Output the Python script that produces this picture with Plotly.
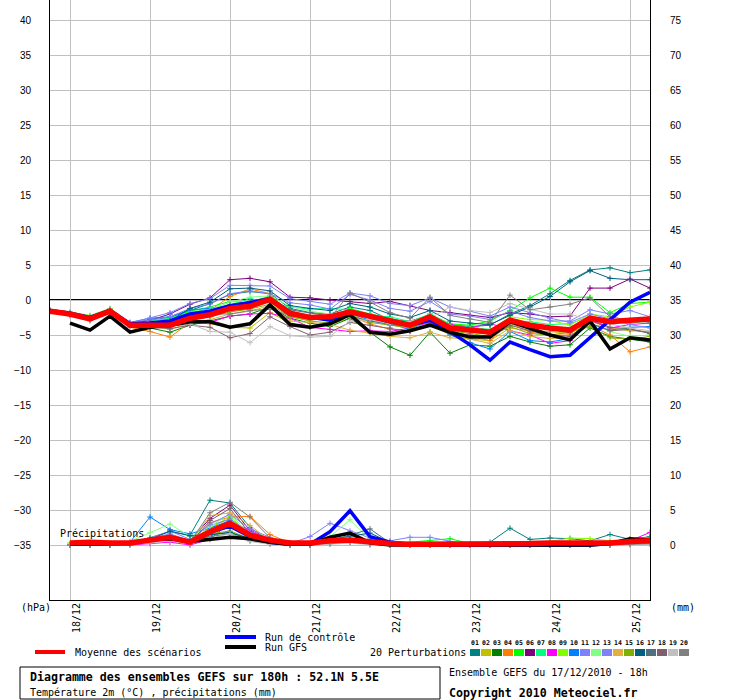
import plotly.graph_objects as go

# ---------------- data ----------------
hours = list(range(0, 181, 6))            # 0h = 17/12 18h ... 180h
precip_hours = hours[1:]
day_hours = [6, 30, 54, 78, 102, 126, 150, 174]
day_labels = ["18/12", "19/12", "20/12", "21/12", "22/12", "23/12", "24/12", "25/12"]
left_ticks = list(range(-35, 41, 5))
right_ticks = list(range(0, 76, 5))

mean_t = [-1.6, -2.0, -2.7, -1.6, -3.6, -3.6, -3.6, -2.6, -2.1, -1.2, -0.9, 0.1, -1.9, -2.5, -2.4, -1.7,
          -2.4, -3.1, -3.6, -2.4, -4.0, -4.3, -4.6, -2.9, -3.6, -4.0, -4.3, -2.6, -3.1, -2.9, -2.7]
ctrl_t = [-1.5, -1.9, -2.5, -1.5, -3.4, -3.3, -3.0, -2.0, -1.6, -0.8, -0.4, 0.2, -2.0, -2.5, -2.9, -1.7,
          -2.4, -3.1, -3.6, -2.9, -4.5, -6.4, -8.6, -6.0, -7.1, -8.1, -7.9, -5.4, -2.9, -0.3, 1.1]
gfs_t = [-3.3, -4.3, -2.3, -4.6, -3.9, -3.6, -3.1, -3.1, -3.9, -3.4, -0.7, -3.5, -3.9, -3.4, -2.1,
         -4.6, -4.9, -4.4, -3.6, -4.6, -5.3, -5.3, -3.1, -4.0, -5.0, -5.7, -3.0, -7.0, -5.4, -5.7]

pert_t = [
    [-1.6, -2.1, -2.8, -1.5, -3.4, -2.8, -2.5, -1.5, -0.5, 0.8, 1.2, 0.9, -1.2, -1.8, -2.0, -1.0, -1.5, -2.8, -3.0, -2.2, -3.5, -3.8, -3.6, -2.0, -0.8, 0.9, 2.8, 4.3, 4.6, 3.9, 4.3],
    [-1.6, -2.0, -2.7, -1.6, -3.6, -3.7, -3.8, -3.2, -3.4, -3.9, -4.0, -1.8, -3.3, -3.8, -3.5, -2.6, -4.7, -4.9, -4.4, -3.5, -5.0, -5.6, -5.8, -4.0, -4.4, -4.5, -4.8, -3.0, -4.0, -4.4, -4.5],
    [-1.6, -2.1, -2.8, -1.7, -3.6, -4.0, -4.6, -3.6, -3.0, -2.3, -2.0, -1.0, -2.6, -3.3, -3.8, -2.6, -4.6, -6.7, -7.9, -4.6, -7.6, -6.4, -6.6, -5.2, -6.0, -6.6, -6.4, -4.0, -5.2, -5.6, -6.0],
    [-1.6, -2.1, -2.9, -1.7, -3.9, -4.5, -5.3, -3.2, -1.5, 0.5, 1.6, 0.9, -2.2, -2.4, -2.8, -2.3, -3.4, -4.2, -4.4, -3.3, -4.3, -5.2, -5.8, -3.3, -4.6, -5.0, -5.0, -3.6, -5.0, -7.4, -6.7],
    [-1.6, -1.9, -2.3, -1.3, -3.5, -3.0, -2.7, -1.6, -1.0, -0.2, -0.4, 0.6, -1.6, -2.3, -2.6, -1.2, -2.0, -2.6, -3.4, -2.0, -3.4, -3.6, -3.0, -1.5, 0.3, 1.7, 0.4, 0.4, -1.8, -0.5, -0.3],
    [-1.6, -1.9, -2.4, -1.4, -3.4, -2.9, -2.0, -0.6, 0.3, 2.9, 3.1, 2.6, 0.4, 0.3, 0.0, -0.2, -0.5, -0.2, -0.8, -1.5, -1.8, -2.2, -2.5, -1.8, -2.0, -2.4, -2.3, 1.7, 1.7, 3.0, 1.7],
    [-1.6, -2.0, -2.6, -1.5, -3.5, -3.1, -2.6, -1.8, -1.2, -0.7, 0.2, -0.4, -1.0, -1.3, -1.2, -1.4, -2.2, -2.4, -3.1, -2.0, -3.5, -3.9, -4.2, -3.4, -3.1, -3.5, -3.4, -2.3, -3.2, -3.3, -3.0],
    [-1.6, -2.1, -2.7, -1.6, -3.7, -3.8, -3.7, -3.4, -3.2, -2.3, -2.0, -1.9, -2.6, -3.9, -4.2, -4.5, -4.4, -4.5, -4.0, -3.2, -3.5, -4.0, -3.3, -4.4, -5.0, -6.2, -5.8, -2.9, -4.0, -3.5, -3.3],
    [-1.4, -1.7, -2.2, -1.2, -3.4, -3.3, -3.4, -2.3, -1.9, -1.4, -0.8, -0.2, -2.4, -2.8, -2.3, -1.5, -2.5, -3.0, -3.3, -2.6, -3.8, -4.0, -4.4, -2.4, -2.8, -2.9, -3.6, -2.0, -2.4, -1.0, -0.3],
    [-1.5, -1.8, -2.4, -1.4, -3.2, -2.6, -2.4, -1.4, -1.2, -0.9, -0.5, -0.3, -1.8, -2.6, -2.5, -1.9, -2.9, -3.4, -4.2, -2.8, -5.0, -6.1, -7.0, -4.5, -5.8, -6.0, -5.5, -3.5, -4.3, -3.9, -3.8],
    [-1.5, -1.8, -2.3, -1.3, -3.3, -2.6, -1.8, -0.5, 0.2, 2.1, 2.1, 2.0, 0.2, -0.2, -0.6, 1.0, 0.6, -0.5, -0.8, 0.3, -1.0, -1.6, -2.3, -1.0, -1.8, -2.6, -3.2, -2.0, -2.7, -3.5, -4.0],
    [-1.6, -1.9, -2.3, -1.4, -3.4, -3.2, -3.1, -2.0, -1.4, -0.3, 0.4, 0.6, -0.9, -1.6, -2.0, -1.6, -2.2, -2.8, -3.2, -2.2, -3.8, -4.6, -4.8, -2.6, -3.5, -3.8, -4.1, -3.3, -4.5, -5.2, -5.0],
    [-1.6, -2.0, -2.6, -1.5, -3.3, -2.9, -2.4, -1.2, -0.6, 0.9, 1.3, 0.9, -0.4, -0.7, -1.3, 0.8, 0.0, -1.2, -1.6, -0.2, -2.0, -2.3, -2.8, -1.6, -2.5, -3.0, -3.0, -1.4, -2.0, -1.5, -2.4],
    [-1.6, -2.0, -2.6, -1.6, -3.4, -3.8, -4.2, -3.3, -2.8, -2.0, -1.6, -0.8, -3.0, -3.2, -3.5, -4.3, -4.8, -5.2, -5.4, -4.6, -5.4, -5.6, -6.2, -4.4, -5.2, -5.5, -5.4, -3.5, -3.9, -4.3, -4.6],
    [-1.6, -2.0, -2.6, -1.5, -3.6, -3.6, -3.9, -2.8, -2.4, -1.7, -1.3, -0.6, -2.4, -3.0, -3.3, -2.0, -3.2, -3.6, -4.0, -3.0, -4.4, -4.8, -5.2, -3.8, -4.8, -5.0, -4.6, -3.8, -5.4, -5.6, -5.2],
    [-1.6, -2.0, -2.6, -1.6, -3.5, -3.2, -3.0, -1.2, -0.3, 1.6, 1.7, 1.3, -0.8, -1.2, -1.5, -0.5, -1.0, -2.0, -2.5, -1.5, -3.0, -3.3, -3.5, -2.2, -1.0, 0.5, 2.6, 4.2, 3.1, 2.9, 2.9],
    [-1.6, -2.1, -2.7, -1.6, -3.5, -3.4, -3.3, -2.4, -1.7, -0.7, -0.2, 0.4, -1.4, -1.8, -2.3, -2.3, -3.0, -3.5, -3.8, -2.7, -4.0, -4.4, -4.9, -3.0, -3.8, -4.2, -4.6, -2.8, -3.9, -4.1, -4.8],
    [-1.6, -2.1, -2.9, -1.7, -3.6, -3.9, -4.1, -3.6, -3.9, -5.4, -4.8, -2.4, -3.8, -5.0, -4.6, -3.2, -3.6, -4.0, -4.5, -3.3, -4.6, -5.0, -5.4, -3.6, -4.4, -5.0, -5.2, -3.3, -4.4, -4.2, -4.7],
    [-1.7, -2.3, -3.0, -1.8, -3.7, -3.8, -3.6, -3.4, -4.5, -4.6, -6.1, -3.8, -5.1, -5.3, -5.2, -3.0, -2.8, -3.4, -3.0, -2.6, -1.0, -1.5, -1.8, -0.5, -1.3, -2.0, -2.0, -2.9, -3.4, -4.0, -4.4],
    [-1.6, -2.0, -2.7, -1.6, -3.5, -3.3, -3.3, -2.3, -2.0, -2.0, -1.5, -1.3, -2.2, -2.5, -2.6, 1.0, -0.3, -1.8, -2.6, 0.4, -2.2, -2.7, -3.2, 0.7, -1.4, -1.0, -0.6, 0.3, -2.4, -2.9, -3.2],
]

mean_p = [0.3, 0.4, 0.3, 0.3, 0.7, 1.1, 0.4, 1.9, 3.1, 1.4, 0.7, 0.3, 0.3, 0.6, 0.7, 0.4, 0.2, 0.1, 0.1, 0.1,
          0.1, 0.1, 0.1, 0.2, 0.3, 0.3, 0.3, 0.3, 0.5, 0.6]
ctrl_p = [0.2, 0.3, 0.2, 0.3, 0.8, 1.0, 0.5, 1.8, 2.7, 1.2, 0.4, 0.1, 0.1, 1.9, 4.9, 1.2, 0.4, 0.1, 0.0, 0.0,
          0.0, 0.0, 0.0, 0.0, 0.0, 0.0, 0.0, 0.2, 0.6, 0.7]
gfs_p = [0.1, 0.1, 0.1, 0.2, 0.8, 0.9, 0.5, 0.8, 1.1, 0.9, 0.4, 0.1, 0.1, 1.1, 1.7, 0.3, 0.0, 0.0, 0.0, 0.0,
         0.0, 0.0, 0.0, 0.0, 0.0, 0.0, 0.0, 0.2, 0.9, 0.7]

pert_p = [
    [0.0, 0.0, 0.0, 0.2, 1.0, 1.9, 1.4, 6.4, 6.0, 2.5, 0.5, 0.0, 0.0, 0.3, 0.6, 0.2, 0.0, 0.0, 0.0, 0.0, 0.0, 0.4, 2.4, 0.8, 1.0, 0.9, 0.6, 1.5, 0.8, 1.2],
    [0.0, 0.1, 0.0, 0.3, 0.7, 1.2, 0.6, 2.5, 3.8, 1.5, 0.6, 0.0, 0.0, 0.6, 0.9, 0.3, 0.0, 0.0, 0.0, 0.0, 0.0, 0.0, 0.0, 0.0, 0.2, 0.3, 0.3, 0.2, 0.2, 0.4],
    [0.0, 0.0, 0.0, 0.1, 0.5, 0.8, 0.2, 1.4, 1.8, 0.7, 0.2, 0.0, 0.0, 0.2, 0.4, 0.1, 0.0, 0.0, 0.0, 0.0, 0.0, 0.0, 0.0, 0.0, 0.0, 0.1, 0.1, 0.1, 0.4, 1.0],
    [0.1, 0.2, 0.0, 0.2, 0.8, 0.6, 0.3, 3.2, 4.0, 4.1, 1.5, 0.3, 0.0, 0.4, 0.5, 0.2, 0.0, 0.0, 0.0, 0.0, 0.0, 0.0, 0.0, 0.0, 0.0, 0.0, 0.0, 0.2, 0.2, 0.3],
    [0.0, 0.0, 0.0, 0.3, 0.6, 1.0, 0.4, 2.2, 3.5, 1.0, 0.4, 0.0, 0.0, 0.3, 0.7, 0.2, 0.0, 0.4, 0.6, 0.9, 0.2, 0.0, 0.0, 0.0, 0.0, 0.0, 0.3, 0.2, 0.3, 0.6],
    [0.0, 0.0, 0.0, 0.2, 0.5, 1.3, 0.6, 3.8, 5.7, 2.0, 0.5, 0.1, 0.0, 0.5, 0.8, 0.3, 0.0, 0.0, 0.0, 0.0, 0.0, 0.0, 0.0, 0.0, 0.0, 0.0, 0.0, 0.4, 0.2, 0.5],
    [0.0, 0.0, 0.0, 0.2, 0.7, 1.1, 0.4, 2.0, 3.3, 0.8, 0.3, 0.0, 0.0, 0.3, 0.6, 0.2, 0.0, 0.0, 0.0, 0.0, 0.0, 0.0, 0.0, 0.0, 0.0, 0.0, 0.0, 0.2, 0.6, 0.8],
    [0.0, 0.0, 0.0, 0.0, 0.2, 0.4, 0.0, 0.8, 3.2, 2.2, 0.6, 0.0, 0.0, 0.2, 0.4, 0.1, 0.0, 0.0, 0.0, 0.0, 0.0, 0.0, 0.0, 0.0, 0.0, 0.0, 0.0, 0.1, 0.6, 1.8],
    [0.3, 0.4, 0.3, 0.4, 0.8, 1.4, 0.5, 2.2, 4.2, 1.2, 0.4, 0.2, 0.1, 0.4, 0.6, 0.3, 0.0, 0.0, 0.0, 0.0, 0.0, 0.0, 0.0, 0.2, 0.5, 1.0, 0.9, 0.6, 0.5, 0.7],
    [0.0, 0.0, 0.0, 0.4, 4.0, 2.2, 1.6, 2.4, 3.5, 1.1, 0.3, 0.0, 0.0, 0.2, 0.4, 0.1, 0.0, 0.0, 0.0, 0.0, 0.0, 0.0, 0.0, 0.0, 0.0, 0.0, 0.0, 0.1, 0.2, 0.3],
    [0.0, 0.0, 0.0, 0.2, 1.0, 2.0, 0.8, 2.8, 3.7, 1.8, 0.8, 0.2, 1.2, 3.1, 2.0, 1.0, 0.6, 1.1, 1.1, 0.5, 0.0, 0.0, 0.0, 0.0, 0.0, 0.0, 0.0, 0.2, 0.3, 0.4],
    [0.0, 0.0, 0.0, 0.5, 1.8, 3.0, 1.2, 2.6, 4.5, 1.4, 0.4, 0.0, 0.1, 1.2, 3.6, 0.8, 0.2, 0.0, 0.0, 0.0, 0.0, 0.0, 0.0, 0.0, 0.0, 0.0, 0.0, 0.1, 0.3, 0.5],
    [0.0, 0.0, 0.0, 0.3, 0.9, 1.6, 0.6, 3.0, 4.4, 2.3, 1.1, 0.3, 0.2, 0.6, 0.8, 0.3, 0.0, 0.0, 0.0, 0.0, 0.0, 0.0, 0.0, 0.0, 0.0, 0.0, 0.0, 0.2, 0.4, 0.6],
    [0.0, 0.0, 0.0, 0.2, 0.6, 1.0, 0.3, 4.2, 4.6, 2.8, 0.6, 0.0, 0.0, 0.4, 0.5, 0.2, 0.0, 0.0, 0.0, 0.0, 0.0, 0.0, 0.0, 0.0, 0.0, 0.0, 0.0, 0.1, 0.1, 0.2],
    [0.1, 0.2, 0.1, 0.3, 0.9, 1.2, 0.5, 1.6, 2.0, 0.9, 0.3, 0.1, 0.0, 0.5, 0.8, 0.2, 0.0, 0.0, 0.0, 0.0, 0.0, 0.0, 0.0, 0.0, 0.0, 0.0, 0.1, 0.3, 0.9, 1.1],
    [0.0, 0.0, 0.0, 0.2, 0.8, 2.0, 1.3, 1.5, 1.8, 0.9, 0.3, 0.0, 0.0, 0.8, 1.3, 1.7, 0.4, 0.0, 0.0, 0.0, 0.0, 0.0, 0.0, 0.0, 0.0, 0.0, 0.0, 0.2, 0.6, 0.8],
    [0.0, 0.0, 0.0, 0.2, 0.7, 1.2, 0.4, 1.2, 1.6, 0.6, 0.2, 0.0, 0.0, 0.6, 1.4, 2.3, 0.3, 0.0, 0.0, 0.0, 0.0, 0.0, 0.0, 0.0, 0.0, 0.0, 0.0, 0.1, 0.3, 0.5],
    [0.0, 0.0, 0.0, 0.1, 0.4, 0.7, 0.2, 3.5, 5.2, 1.6, 0.4, 0.0, 0.0, 0.3, 0.5, 0.1, 0.0, 0.0, 0.0, 0.0, 0.0, 0.0, 0.0, 0.0, 0.0, 0.0, 0.0, 0.0, 0.1, 0.2],
    [0.0, 0.0, 0.0, 0.1, 0.3, 0.6, 0.2, 1.0, 1.6, 0.5, 0.1, 0.0, 0.0, 0.1, 0.3, 0.0, 0.0, 0.0, 0.0, 0.0, 0.0, 0.0, 0.0, 0.0, 0.0, 0.0, 0.0, 0.0, 0.1, 0.1],
    [0.0, 0.0, 0.0, 0.2, 0.6, 1.0, 0.4, 4.6, 6.1, 4.0, 1.0, 0.1, 0.0, 0.4, 0.6, 0.2, 0.0, 0.0, 0.0, 0.0, 0.0, 0.0, 0.0, 0.0, 0.0, 0.0, 0.0, 0.0, 0.1, 0.2],
]

pert_labels = ["%02d" % (k + 1) for k in range(20)]
pert_colors = ["#008080", "#c0c000", "#008000", "#ff8000", "#00ff00", "#800080", "#00ff80", "#ff00ff",
               "#80ff00", "#0080ff", "#8080ff", "#80ff80", "#8080f8", "#e0b040", "#80b000", "#006080",
               "#507080", "#806070", "#c0c0c0", "#808080"]

# ---------------- geometry helpers (pixel -> paper) ----------------
PL, PR, PT, PB = 50, 650, 0, 600


def px(x):
    return (x - PL) / (PR - PL)


def py(y):
    return (PB - y) / (PB - PT)


MONO = "DejaVu Sans Mono"
SANS = "Liberation Sans"

fig = go.Figure()

for k in range(20):
    fig.add_trace(go.Scatter(x=hours, y=pert_t[k], mode="lines+markers",
                             line=dict(color=pert_colors[k], width=1),
                             marker=dict(symbol="cross-thin", size=4,
                                         line=dict(color=pert_colors[k], width=1)),
                             showlegend=False, hoverinfo="skip"))
    fig.add_trace(go.Scatter(x=precip_hours, y=pert_p[k], yaxis="y2", mode="lines+markers",
                             line=dict(color=pert_colors[k], width=1),
                             marker=dict(symbol="cross-thin", size=4,
                                         line=dict(color=pert_colors[k], width=1)),
                             showlegend=False, hoverinfo="skip"))

fig.add_trace(go.Scatter(x=hours, y=ctrl_t, mode="lines", line=dict(color="#0000ff", width=3.5),
                         showlegend=False, hoverinfo="skip"))
fig.add_trace(go.Scatter(x=precip_hours, y=ctrl_p, yaxis="y2", mode="lines",
                         line=dict(color="#0000ff", width=3.5), showlegend=False, hoverinfo="skip"))
fig.add_trace(go.Scatter(x=precip_hours, y=gfs_t, mode="lines", line=dict(color="#000000", width=3.5),
                         showlegend=False, hoverinfo="skip"))
fig.add_trace(go.Scatter(x=precip_hours, y=gfs_p, yaxis="y2", mode="lines",
                         line=dict(color="#000000", width=3.5), showlegend=False, hoverinfo="skip"))
fig.add_trace(go.Scatter(x=hours, y=mean_t, mode="lines", line=dict(color="#ff0000", width=5.5),
                         showlegend=False, hoverinfo="skip"))
fig.add_trace(go.Scatter(x=precip_hours, y=mean_p, yaxis="y2", mode="lines",
                         line=dict(color="#ff0000", width=5.5), showlegend=False, hoverinfo="skip"))
# invisible carrier so the date-label axis is drawn
fig.add_trace(go.Scatter(x=day_hours, y=[None] * len(day_hours), xaxis="x2", mode="lines",
                         showlegend=False, hoverinfo="skip"))

yr = (PB - PT) / 2 / 7.0   # 7 px per degree
fig.update_layout(
    width=740, height=700,
    margin=dict(l=PL, r=740 - PR, t=PT, b=700 - PB, pad=0),
    paper_bgcolor="white", plot_bgcolor="white",
    showlegend=False,
    xaxis=dict(range=[hours[0], hours[-1]], tickvals=day_hours, showticklabels=False,
               showgrid=True, gridcolor="#c0c0c0", gridwidth=1, zeroline=False,
               showline=True, linecolor="black", linewidth=1, ticks=""),
    xaxis2=dict(overlaying="x", anchor="y", side="bottom", range=[hours[0], hours[-1]],
                tickvals=[h + 2.1 for h in day_hours], ticktext=day_labels, tickangle=-90,
                showgrid=False, zeroline=False, showline=False, ticks="",
                tickfont=dict(family=MONO, size=10, color="black")),
    yaxis=dict(range=[-yr, yr], tickvals=left_ticks, showgrid=True, gridcolor="#c0c0c0",
               gridwidth=1, zeroline=False, showline=True, linecolor="black", linewidth=1,
               ticks="", ticklabelstandoff=16,
               tickfont=dict(family=SANS, size=10, color="black")),
    yaxis2=dict(overlaying="y", side="right", range=[-yr + 35, yr + 35], tickvals=right_ticks,
                showgrid=False, zeroline=False, showline=True, linecolor="black", linewidth=1,
                ticks="", ticklabelstandoff=17,
                tickfont=dict(family=SANS, size=10, color="black")),
)

# zero line
fig.add_shape(type="line", xref="x", yref="y", x0=hours[0], x1=hours[-1], y0=0, y1=0,
              line=dict(color="black", width=2), layer="below")

shapes = []
ann = []


def text(x, y, s, size=10, bold=False, anchor="left"):
    ann.append(dict(xref="paper", yref="paper", x=px(x), y=py(y), text=("<b>%s</b>" % s) if bold else s,
                    showarrow=False, xanchor=anchor, yanchor="middle", borderpad=0,
                    font=dict(family=MONO, size=size, color="#000000")))


def hline(x0, x1, y, color, w):
    shapes.append(dict(type="line", xref="paper", yref="paper", x0=px(x0), x1=px(x1), y0=py(y), y1=py(y),
                       line=dict(color=color, width=w)))


text(20, 607, "(hPa)")
text(670, 607, "(mm)")
text(59, 533, "Précipitations")

hline(225, 256, 637, "#0000ff", 4)
text(264, 637, "Run de contrôle")
hline(225, 256, 647, "#000000", 4)
text(264, 647, "Run GFS")
hline(35, 65, 652, "#ff0000", 4)
text(74, 652, "Moyenne des scénarios")
text(369, 652, "20 Perturbations")

for k in range(20):
    x0 = 470 + 11 * k
    shapes.append(dict(type="rect", xref="paper", yref="paper", x0=px(x0), x1=px(x0 + 10),
                       y0=py(656), y1=py(649), line=dict(width=0), fillcolor=pert_colors[k]))
    text(x0 + 5, 643, pert_labels[k], size=6.5, bold=True, anchor="center")

shapes.append(dict(type="rect", xref="paper", yref="paper", x0=px(20), x1=px(440), y0=py(699), y1=py(667),
                   line=dict(color="black", width=1), fillcolor="rgba(0,0,0,0)"))
text(29, 677, "Diagramme des ensembles GEFS sur 180h : 52.1N 5.5E", size=11.6, bold=True)
text(29, 692, "Température 2m (°C) , précipitations (mm)")
text(448, 672, "Ensemble GEFS du 17/12/2010 - 18h")
text(448, 693, "Copyright 2010 Meteociel.fr", size=11.6, bold=True)

for s in shapes:
    fig.add_shape(**s)
fig.update_layout(annotations=ann)

fig.write_html("out.html", config={"displayModeBar": False},
               post_script="document.body.style.margin='0';document.body.style.overflow='hidden';")
